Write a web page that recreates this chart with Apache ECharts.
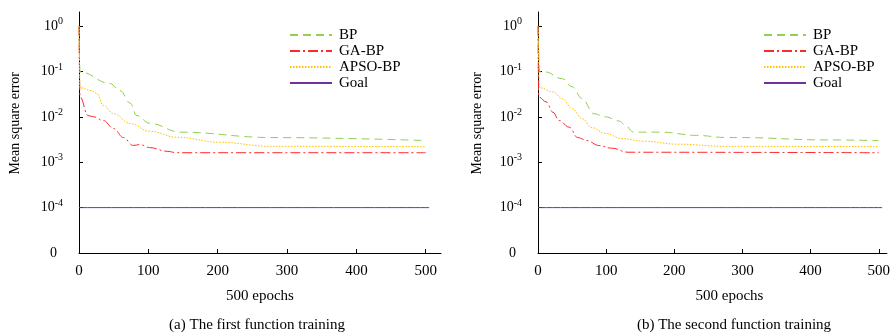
<!DOCTYPE html>
<html>
<head>
<meta charset="utf-8">
<script src="https://cdn.jsdelivr.net/npm/echarts@6/dist/echarts.min.js"></script>
<style>html,body{margin:0;padding:0;background:#fff}#c{width:893px;height:333px}</style>
</head>
<body>
<div id="c"></div>
<script>
// ---- data (epoch, mean square error) ----
const seriesNames = ['BP', 'GA-BP', 'APSO-BP', 'Goal'];
const xTicks = [0, 100, 200, 300, 400, 500];
const yTicks = [1e-5, 1e-4, 1e-3, 1e-2, 1e-1, 1];

// (a) first function training
const aBP_x   = [0, 1.5, 45, 59, 74, 83, 102, 146, 276, 500];
const aBP_y   = [1, 0.098, 0.054, 0.038, 0.020, 0.0107, 0.0072, 0.0046, 0.0035, 0.0030];
const aGA_x   = [0, 1.5, 13, 21, 35, 50, 64, 78, 88, 102, 127, 141, 500];
const aGA_y   = [1, 0.0275, 0.0107, 0.010, 0.0083, 0.0055, 0.0035, 0.00234, 0.00245, 0.0021, 0.00174, 0.00162, 0.00162];
const aAPSO_x = [0, 1.5, 18, 26, 35, 50, 74, 102, 141, 203, 276, 500];
const aAPSO_y = [1, 0.0437, 0.038, 0.0324, 0.0178, 0.0117, 0.0071, 0.0048, 0.00355, 0.00275, 0.00224, 0.0022];
const aGoal_x = [0, 505];
const aGoal_y = [1e-4, 1e-4];

// (b) second function training
const bBP_x   = [0, 2.5, 10, 36, 50, 65, 82, 99, 119, 128, 140, 180, 233, 276, 295, 421, 500];
const bBP_y   = [1, 0.098, 0.098, 0.069, 0.046, 0.025, 0.0117, 0.010, 0.0081, 0.0065, 0.0046, 0.0046, 0.0039, 0.0035, 0.0035, 0.0031, 0.0030];
const bGA_x   = [0, 1, 12, 22, 31, 46, 58, 72, 89, 108, 132, 500];
const bGA_y   = [1, 0.0275, 0.0214, 0.0126, 0.0083, 0.0059, 0.0035, 0.0030, 0.00234, 0.00204, 0.00166, 0.00162];
const bAPSO_x = [0, 2.5, 22, 36, 50, 65, 79, 99, 123, 156, 204, 276, 500];
const bAPSO_y = [1, 0.0437, 0.0355, 0.025, 0.0151, 0.0091, 0.0058, 0.0043, 0.0033, 0.0029, 0.0025, 0.00224, 0.0022];
const bGoal_x = [0, 505];
const bGoal_y = [1e-4, 1e-4];

const captions = ['(a) The first function training', '(b) The second function training'];
const xName = '500 epochs';
const yName = 'Mean square error';

// ---- chart ----
const FONT = 'Liberation Serif';
const colors = ['#92d050', '#ff2a2a', '#ffc000', '#7030a0'];
const lineTypes = [[8, 5], [10, 3, 2, 3], [1.5, 1.5], 'solid'];
const zip = (xs, ys) => xs.map((x, i) => [x, ys[i]]);

const grids = [
  { left: 79, top: 12, width: 362, height: 241 },
  { left: 538, top: 12, width: 355, height: 241 }
];
const xMax = [522, 512];
const namePad = [[0, 0, 0, 0], [0, 0, 0, 34]];

function yLabel(v) {
  const e = Math.round(Math.log10(v));
  if (e <= -5) return '{z|0}';
  return '{b|10}{s|' + e + '}';
}

const xAxes = grids.map((g, i) => ({
  type: 'value', gridIndex: i, min: 0, max: xMax[i], interval: 100,
  name: xName, nameLocation: 'middle', nameGap: 36,
  nameTextStyle: { fontFamily: FONT, fontSize: 15, color: '#000', padding: namePad[i] },
  axisLine: { lineStyle: { color: '#000', width: 1 } },
  axisTick: { inside: true, length: 4, lineStyle: { color: '#000' }, customValues: xTicks },
  axisLabel: { fontFamily: FONT, fontSize: 15, color: '#000', margin: 11, customValues: xTicks },
  splitLine: { show: false }
}));

const yAxes = grids.map((g, i) => ({
  type: 'log', logBase: 10, gridIndex: i, min: 1e-5, max: 2.04,
  axisLine: { show: true, lineStyle: { color: '#000', width: 1 } },
  axisTick: { show: true, inside: true, length: 4, lineStyle: { color: '#000' }, customValues: yTicks },
  axisLabel: {
    customValues: yTicks, margin: 16, formatter: yLabel,
    rich: {
      b: { fontFamily: FONT, fontSize: 14, color: '#000' },
      z: { fontFamily: FONT, fontSize: 14, color: '#000', padding: [0, 6, 0, 0] },
      s: { fontFamily: FONT, fontSize: 10, color: '#000', padding: [0, 0, 9, 0] }
    }
  },
  splitLine: { show: false }
}));

function mk(name, idx, xs, ys, gi) {
  return {
    name, type: 'line', xAxisIndex: gi, yAxisIndex: gi,
    data: zip(xs, ys), symbol: 'none', smooth: 0.4, smoothMonotone: 'x',
    lineStyle: { color: colors[idx], width: 1, type: lineTypes[idx] },
    itemStyle: { color: colors[idx] }, z: idx === 3 ? 1 : 2
  };
}

const series = [
  mk('BP', 0, aBP_x, aBP_y, 0), mk('GA-BP', 1, aGA_x, aGA_y, 0),
  mk('APSO-BP', 2, aAPSO_x, aAPSO_y, 0), mk('Goal', 3, aGoal_x, aGoal_y, 0),
  mk('BP', 0, bBP_x, bBP_y, 1), mk('GA-BP', 1, bGA_x, bGA_y, 1),
  mk('APSO-BP', 2, bAPSO_x, bAPSO_y, 1), mk('Goal', 3, bGoal_x, bGoal_y, 1)
];

const legends = [289, 763].map(l => ({
  data: seriesNames, orient: 'vertical', left: l, top: 27,
  itemWidth: 42, itemHeight: 10, itemGap: 0, padding: 0,
  itemStyle: { color: 'rgba(0,0,0,0)', opacity: 0, borderWidth: 0 },
  textStyle: { fontFamily: FONT, fontSize: 15, color: '#000', lineHeight: 16, padding: [0, 0, 0, 2] },
  selectedMode: false
}));

const chart = echarts.init(document.getElementById('c'), null, { renderer: 'canvas' });
chart.setOption({
  animation: false,
  backgroundColor: '#fff',
  grid: grids,
  xAxis: xAxes,
  yAxis: yAxes,
  legend: legends,
  series,
  graphic: [
    { type: 'text', left: 8, top: 72, rotation: Math.PI / 2,
      style: { text: yName, fontFamily: FONT, fontSize: 14, fill: '#000' } },
    { type: 'text', left: 470, top: 72, rotation: Math.PI / 2,
      style: { text: yName, fontFamily: FONT, fontSize: 14, fill: '#000' } },
    { type: 'text', x: 257, y: 325, style: { text: captions[0], fontFamily: FONT, fontSize: 15, fill: '#000', align: 'center', verticalAlign: 'middle' } },
    { type: 'text', x: 734, y: 325, style: { text: captions[1], fontFamily: FONT, fontSize: 15, fill: '#000', align: 'center', verticalAlign: 'middle' } }
  ]
});
</script>
</body>
</html>
